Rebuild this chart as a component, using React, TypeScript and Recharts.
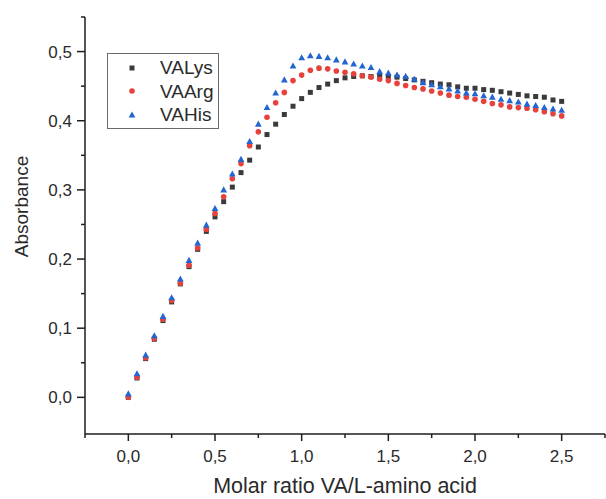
import React from 'react';
import { ScatterChart, Scatter, XAxis, YAxis, Legend, Label } from 'recharts';

const ratio = [0, 0.05, 0.1, 0.15, 0.2, 0.25, 0.3, 0.35, 0.4, 0.45, 0.5, 0.55, 0.6, 0.65, 0.7, 0.75, 0.8, 0.85, 0.9, 0.95, 1.0, 1.05, 1.1, 1.15, 1.2, 1.25, 1.3, 1.35, 1.4, 1.45, 1.5, 1.55, 1.6, 1.65, 1.7, 1.75, 1.8, 1.85, 1.9, 1.95, 2.0, 2.05, 2.1, 2.15, 2.2, 2.25, 2.3, 2.35, 2.4, 2.45, 2.5];

const valys = [0.000, 0.028, 0.056, 0.084, 0.111, 0.138, 0.164, 0.189, 0.214, 0.240, 0.261, 0.283, 0.304, 0.325, 0.343, 0.362, 0.380, 0.395, 0.409, 0.421, 0.432, 0.441, 0.448, 0.453, 0.458, 0.462, 0.464, 0.465, 0.464, 0.465, 0.464, 0.463, 0.461, 0.459, 0.457, 0.455, 0.453, 0.452, 0.449, 0.447, 0.447, 0.445, 0.444, 0.442, 0.440, 0.438, 0.436, 0.435, 0.434, 0.430, 0.428];

const vaarg = [0.000, 0.029, 0.057, 0.085, 0.113, 0.140, 0.165, 0.191, 0.216, 0.243, 0.266, 0.290, 0.316, 0.338, 0.364, 0.384, 0.405, 0.426, 0.441, 0.458, 0.466, 0.473, 0.476, 0.475, 0.472, 0.470, 0.468, 0.465, 0.463, 0.460, 0.458, 0.454, 0.451, 0.448, 0.446, 0.443, 0.440, 0.437, 0.435, 0.434, 0.431, 0.428, 0.425, 0.423, 0.420, 0.419, 0.418, 0.416, 0.413, 0.410, 0.407];

const vahis = [0.005, 0.034, 0.061, 0.089, 0.117, 0.144, 0.171, 0.198, 0.223, 0.249, 0.273, 0.300, 0.323, 0.344, 0.370, 0.395, 0.419, 0.440, 0.459, 0.479, 0.491, 0.494, 0.493, 0.491, 0.488, 0.485, 0.482, 0.479, 0.477, 0.471, 0.469, 0.466, 0.464, 0.460, 0.455, 0.452, 0.449, 0.446, 0.443, 0.440, 0.439, 0.436, 0.434, 0.431, 0.429, 0.427, 0.424, 0.422, 0.419, 0.417, 0.415];

const xTicks = [-0.25, 0, 0.25, 0.5, 0.75, 1.0, 1.25, 1.5, 1.75, 2.0, 2.25, 2.5, 2.75];
const yTicks = [0, 0.05, 0.1, 0.15, 0.2, 0.25, 0.3, 0.35, 0.4, 0.45, 0.5, 0.55];
const seriesNames = ['VALys', 'VAArg', 'VAHis'];

const FONT = '"Liberation Sans", Arial, sans-serif';
const TEXT = '#2a2a2a';
const AXIS = '#1e1e1e';
const C_LYS = '#3a3a3a';
const C_ARG = '#e6423b';
const C_HIS = '#2366d1';

const toPoints = (vals: number[]) => ratio.map((r, i) => ({ x: r, y: vals[i] }));
const fmt = (v: number) => v.toFixed(1).replace('.', ',');

const XTick = (props: any) => {
  const { x, y, payload } = props;
  const v = payload.value as number;
  const major = Math.round(v * 100) % 50 === 0;
  return (
    <g>
      <line x1={x} x2={x} y1={y} y2={y + (major ? 7 : 4)} stroke={AXIS} strokeWidth={1.5} />
      {major && (
        <text x={x} y={y + 28} textAnchor="middle" fontSize={17} fontFamily={FONT} fill={TEXT}>
          {fmt(v)}
        </text>
      )}
    </g>
  );
};

const YTick = (props: any) => {
  const { x, y, payload } = props;
  const v = payload.value as number;
  const major = Math.round(v * 100) % 10 === 0;
  return (
    <g>
      <line x1={x - (major ? 8 : 4)} x2={x} y1={y} y2={y} stroke={AXIS} strokeWidth={1.5} />
      {major && (
        <text x={x - 13} y={y + 6} textAnchor="end" fontSize={17} fontFamily={FONT} fill={TEXT}>
          {fmt(v)}
        </text>
      )}
    </g>
  );
};

const SquareShape = (p: any) => (
  <rect x={p.cx - 2.5} y={p.cy - 2.5} width={5} height={5} fill={C_LYS} />
);
const CircleShape = (p: any) => <circle cx={p.cx} cy={p.cy} r={2.8} fill={C_ARG} />;
const TriShape = (p: any) => (
  <polygon
    points={`${p.cx},${p.cy - 3.6} ${p.cx + 3.4},${p.cy + 2.5} ${p.cx - 3.4},${p.cy + 2.5}`}
    fill={C_HIS}
  />
);

const symbolFor = (i: number) => {
  if (i === 0) return <rect x={4.5} y={4.5} width={5} height={5} fill={C_LYS} />;
  if (i === 1) return <circle cx={7} cy={7} r={2.8} fill={C_ARG} />;
  return <polygon points="7,3.4 10.4,9.5 3.6,9.5" fill={C_HIS} />;
};

const LegendBox = () => (
  <div
    style={{
      width: 112,
      height: 76,
      boxSizing: 'border-box',
      border: '1.5px solid #6a6a6a',
      fontFamily: FONT,
      fontSize: 19,
      color: TEXT,
      paddingTop: 2,
    }}
  >
    {seriesNames.map((n, i) => (
      <div key={n} style={{ display: 'flex', alignItems: 'center', height: 23.5 }}>
        <svg width={14} height={14} style={{ marginLeft: 17, marginRight: 21 }}>
          {symbolFor(i)}
        </svg>
        <span style={{ lineHeight: '23px' }}>{n}</span>
      </div>
    ))}
  </div>
);

const XTitle = (props: any) => {
  const vb = props.viewBox;
  return (
    <text
      x={vb.x + vb.width / 2}
      y={vb.y + 59}
      textAnchor="middle"
      fontSize={21.5}
      fontFamily={FONT}
      fill={TEXT}
    >
      Molar ratio VA/L-amino acid
    </text>
  );
};

const YTitle = (props: any) => {
  const vb = props.viewBox;
  const cx = 28;
  const cy = vb.y + vb.height / 2 - 19;
  return (
    <text
      x={cx}
      y={cy}
      transform={`rotate(-90, ${cx}, ${cy})`}
      textAnchor="middle"
      fontSize={19}
      fontFamily={FONT}
      fill={TEXT}
    >
      Absorbance
    </text>
  );
};

export default function App() {
  return (
    <div style={{ position: 'absolute', left: 0, top: 0, background: '#fff' }}>
      <ScatterChart width={606} height={499} margin={{ top: 17, right: 1, bottom: 0, left: 0 }}>
        <XAxis
          type="number"
          dataKey="x"
          domain={[-0.25, 2.75]}
          ticks={xTicks}
          interval={0}
          tick={<XTick />}
          tickLine={false}
          tickSize={0}
          tickMargin={0}
          height={65}
          allowDataOverflow
          axisLine={{ stroke: AXIS, strokeWidth: 1.5 }}
        >
          <Label content={<XTitle />} />
        </XAxis>
        <YAxis
          type="number"
          dataKey="y"
          domain={[-0.053, 0.55]}
          ticks={yTicks}
          interval={0}
          tick={<YTick />}
          tickLine={false}
          tickSize={0}
          tickMargin={0}
          width={85}
          allowDataOverflow
          axisLine={{ stroke: AXIS, strokeWidth: 1.5 }}
        >
          <Label content={<YTitle />} />
        </YAxis>
        <Legend
          layout="vertical"
          align="center"
          verticalAlign="middle"
          content={<LegendBox />}
          wrapperStyle={{ position: 'absolute', left: 107, top: 53, width: 112, height: 76 }}
        />
        <Scatter name={seriesNames[0]} data={toPoints(valys)} shape={<SquareShape />} isAnimationActive={false} />
        <Scatter name={seriesNames[1]} data={toPoints(vaarg)} shape={<CircleShape />} isAnimationActive={false} />
        <Scatter name={seriesNames[2]} data={toPoints(vahis)} shape={<TriShape />} isAnimationActive={false} />
      </ScatterChart>
    </div>
  );
}
